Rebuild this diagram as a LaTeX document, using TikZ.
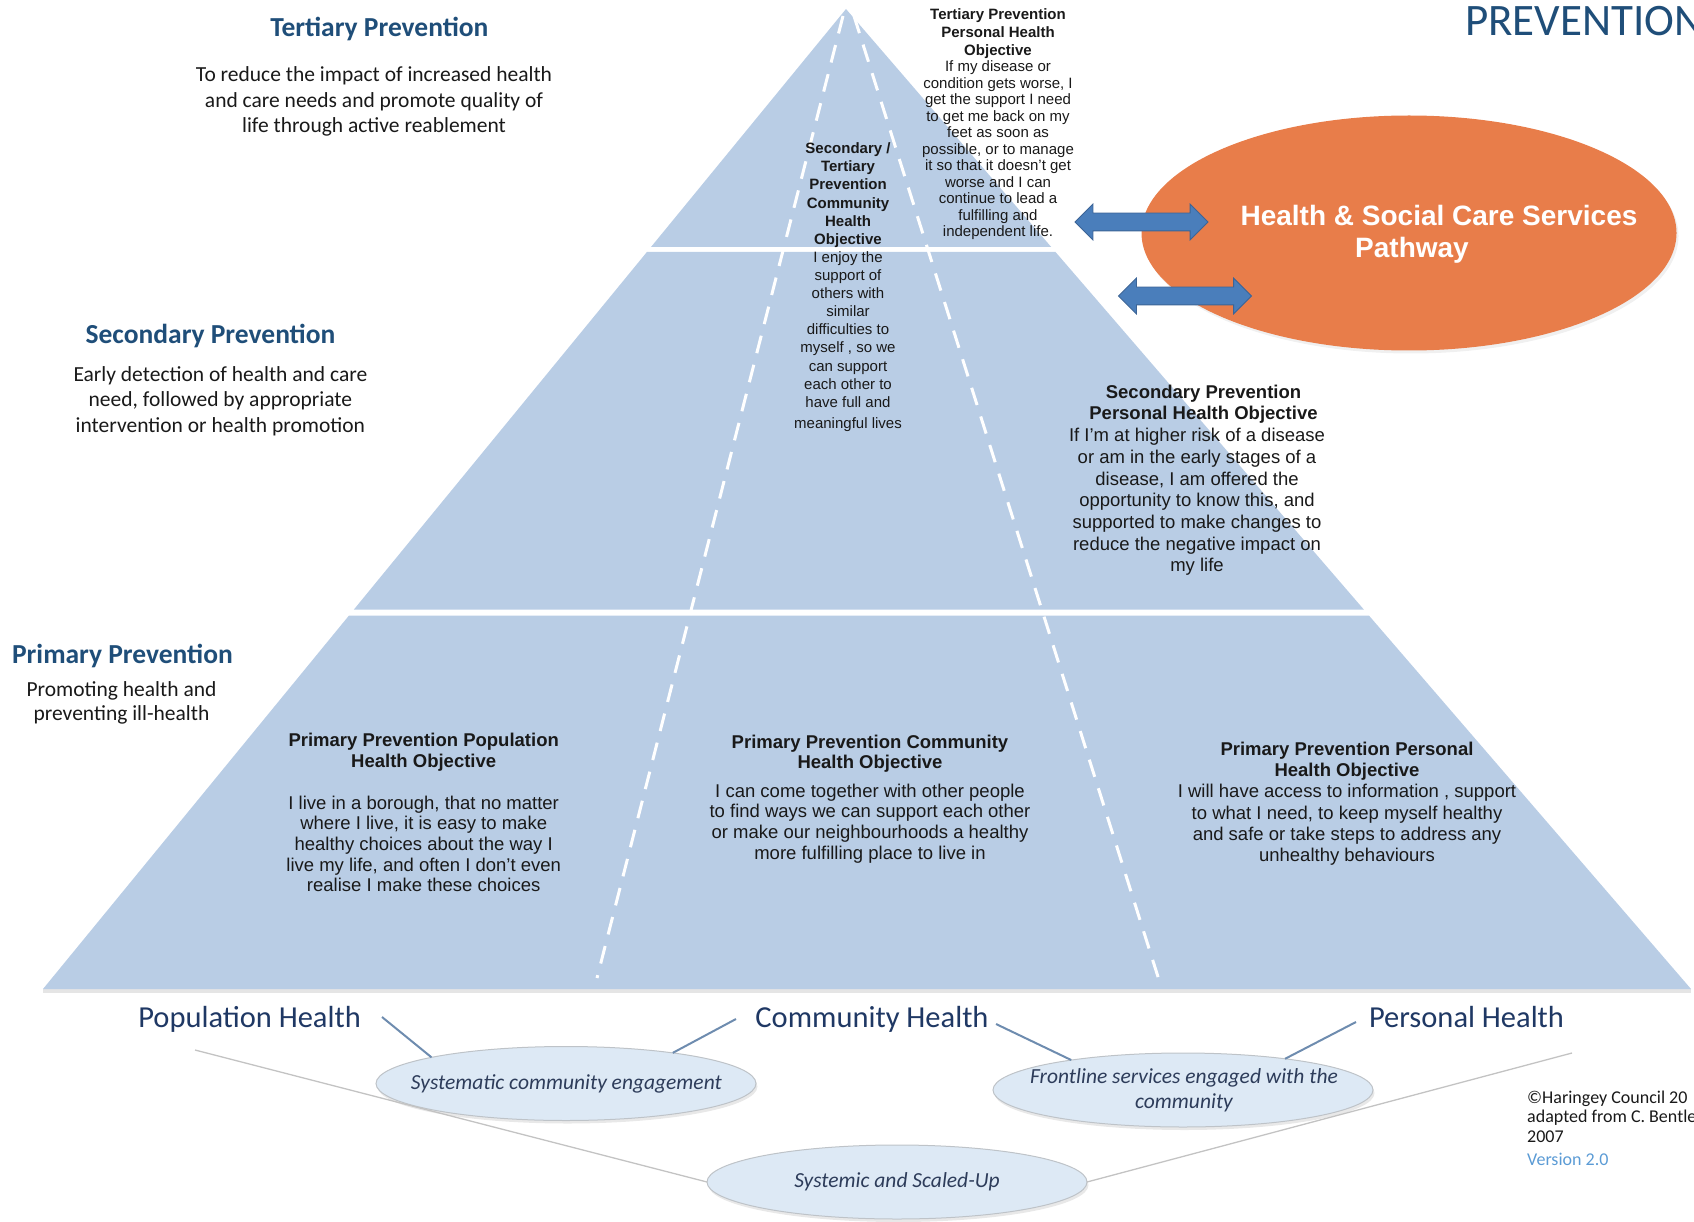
\documentclass[tikz,border=0pt]{standalone}
\usepackage{fontspec}
\setmainfont{Liberation Sans}
\newfontfamily\calibfont{Carlito}
\newfontfamily\arialfont{Liberation Sans}
\usetikzlibrary{shapes.geometric,shapes.arrows,shadows}
\definecolor{pyrblue}{RGB}{185,205,229}
\definecolor{titleblue}{RGB}{31,78,121}
\definecolor{navy}{RGB}{31,56,100}
\definecolor{orangec}{RGB}{232,125,74}
\definecolor{arrowblue}{RGB}{74,126,187}
\definecolor{arrowedge}{RGB}{60,100,150}
\definecolor{ellfill}{RGB}{221,233,245}
\definecolor{ellline}{RGB}{190,195,200}
\definecolor{elltext}{RGB}{45,60,90}
\definecolor{connblue}{RGB}{110,140,175}
\definecolor{longgray}{RGB}{195,195,195}
\definecolor{verblue}{RGB}{91,155,213}
\definecolor{bodyblack}{RGB}{25,25,25}
\begin{document}
\begin{tikzpicture}[x=1pt,y=-1pt,
  whitedash/.style={draw=white, line width=3pt, dash pattern=on 18pt off 12pt},
  ttl/.style={font=\calibfont\bfseries\fontsize{27.5}{33}\selectfont, text=titleblue, inner sep=0pt, anchor=base},
  calbody/.style={font=\calibfont\fontsize{21.5}{25.6}\selectfont, text=bodyblack, inner sep=0pt, anchor=base, align=center},
  lvl/.style={font=\calibfont\fontsize{30.5}{36}\selectfont, text=navy, inner sep=0pt, anchor=base},
  objsmall/.style={font=\arialfont\fontsize{15}{16.5}\selectfont, text=bodyblack, inner sep=0pt, anchor=base, align=center},
  objbig/.style={font=\arialfont\fontsize{18.5}{20.6}\selectfont, text=bodyblack, inner sep=0pt, anchor=base, align=center},
  bubble/.style={ellipse, fill=ellfill, draw=ellline, line width=1pt, minimum width=380pt, minimum height=74pt, inner sep=0pt, outer sep=0pt,
     drop shadow={opacity=0.18, shadow xshift=1.5pt, shadow yshift=-3pt}},
  bubtext/.style={font=\calibfont\itshape\fontsize{21.5}{25}\selectfont, text=elltext, align=center, inner sep=0pt, anchor=base},
  dblarrow/.style={double arrow, fill=arrowblue, draw=arrowedge, line width=0.8pt, minimum height=133pt,
     inner xsep=0pt, inner ysep=8.5pt, double arrow head extend=9pt, outer sep=0pt},
  conn/.style={draw=connblue, line width=2pt},
  longline/.style={draw=longgray, line width=1.3pt}
]
\useasboundingbox (0,0) rectangle (1694,1222);
\clip (0,0) rectangle (1694,1222);

% pyramid tiers
\fill[gray!20] (43,989) -- (1691,989) -- (1691,993) -- (43,993) -- cycle;
\fill[pyrblue] (846,9) -- (651,247) -- (1051.2,247) -- cycle;
\fill[pyrblue] (646.9,252) -- (1055.5,252) -- (1363.8,609.5) -- (353.9,609.5) -- cycle;
\fill[pyrblue] (349,615.5) -- (1368.9,615.5) -- (1691,989) -- (43,989) -- cycle;

% dashed dividers
\draw[whitedash] (843,16) -- (597,978);
\draw[whitedash] (854,16) -- (1159,980);

% left-hand descriptions (multi-line nodes: base = last line)
\node[ttl] (tert) at (379.4,36.7) {Tertiary Prevention};
\node[calbody] (tertd) at (374,132.9) {To reduce the impact of increased health\\and care needs and promote quality of\\life through active reablement};
\node[ttl] (sec) at (210.5,343.3) {Secondary Prevention};
\node[calbody] (secd) at (220.4,432.3) {Early detection of health and care\\need, followed by appropriate\\intervention or health promotion};
\node[ttl] (prim) at (122.5,663.3) {Primary Prevention};
\node[calbody, font=\calibfont\fontsize{21.5}{23.3}\selectfont] (primd) at (121.5,720) {Promoting health and\\preventing ill-health};

\node[font=\calibfont\fontsize{45}{54}\selectfont, text=titleblue, inner sep=0pt, anchor=base west] (prev) at (1465,36) {PREVENTION};

% objectives inside pyramid
\node[objsmall] (tpo) at (998,236.7) {\textbf{Tertiary Prevention}\\[1.2pt]\textbf{Personal Health}\\[1.2pt]\textbf{Objective}\\If my disease or\\condition  gets worse, I\\get the support I need\\to get me back on my\\feet as soon as\\possible, or to manage\\it so that it doesn’t get\\worse and I can\\continue to lead a\\fulfilling and\\independent life.};
\node[objsmall, font=\arialfont\fontsize{15}{18.1}\selectfont] (stco) at (848,428.3) {\textbf{Secondary /}\\\textbf{Tertiary}\\\textbf{Prevention}\\\textbf{Community}\\\textbf{Health}\\\textbf{Objective}\\I enjoy the\\support of\\others with\\similar\\difficulties to\\myself , so we\\can support\\each other to\\have full and\\[3pt]meaningful lives};
\node[objbig, font=\arialfont\fontsize{18.5}{21.7}\selectfont] (spo) at (1197,571.8) {\hspace*{13pt}\textbf{Secondary Prevention}\\\hspace*{13pt}\textbf{Personal Health Objective}\\If I’m at higher risk of a disease\\or am in the early stages of a\\disease,  I am offered the\\opportunity to know this, and\\supported to make changes to\\reduce the negative impact on\\my life};
\node[objbig] (ppop) at (423.7,891.7) {\textbf{Primary Prevention Population}\\\textbf{Health Objective}\\[21.4pt]I live in a borough, that no matter\\where I live, it is easy to make\\healthy choices about the way I\\live my life, and often I don’t even\\realise I make these choices};
\node[objbig] (pcom) at (870,859) {\textbf{Primary Prevention Community}\\\textbf{Health Objective}\\[8pt]I can come together with other people\\to find ways we can support each other\\or make our neighbourhoods  a healthy\\more fulfilling place to live in};
\node[objbig, font=\arialfont\fontsize{18.5}{21.3}\selectfont] (ppers) at (1347,861.6) {\textbf{Primary Prevention Personal}\\\textbf{Health Objective}\\I will have access to information , support\\to what I need, to keep myself healthy\\and  safe or take steps to address any\\unhealthy behaviours};

% services pathway
\node[ellipse, fill=orangec, minimum width=535pt, minimum height=235pt, inner sep=0pt, outer sep=0pt,
      drop shadow={opacity=0.12, shadow xshift=2pt, shadow yshift=-3pt}] (hsc) at (1409,233) {};
\node[font=\arialfont\bfseries\fontsize{28}{32.7}\selectfont, text=white, align=center, inner sep=0pt, anchor=base] (hsct) at (1439,258) {Health \& Social Care Services\\Pathway\hspace*{54pt}};
\node[dblarrow] (arr1) at (1141.5,222) {};
\node[dblarrow] (arr2) at (1185,296) {};

% bottom level labels
\node[lvl] (pop) at (249.6,1027.3) {Population Health};
\node[lvl] (com) at (872,1027.3) {Community Health};
\node[lvl] (per) at (1466.5,1027.3) {Personal Health};

\node[bubble] (e1) at (566,1083.5) {};
\node[bubble] (e2) at (1183,1090) {};
\node[bubble] (e3) at (897,1182) {};
\node[bubtext] (e1t) at (566.4,1089.3) {Systematic community engagement};
\node[bubtext] (e2t) at (1184,1108.3) {Frontline services engaged with the\\community};
\node[bubtext] (e3t) at (897,1187.5) {Systemic and Scaled-Up};

\coordinate (popR) at (382,1017);
\coordinate (comL) at (736,1019);
\coordinate (comR) at (996,1024);
\coordinate (perL) at (1356,1022);
\coordinate (longL) at (195,1050);
\coordinate (longR) at (1572,1053);

\draw[conn] (popR) -- (e1.169);
\draw[conn] (comL) -- (e1.16);
\draw[conn] (comR) -- (e2.165);
\draw[conn] (perL) -- (e2.17);
\draw[longline] (longL) -- (e3.west);
\draw[longline] (e3.east) -- (longR);

% credits
\node[font=\calibfont\fontsize{18}{19.5}\selectfont, text=bodyblack, align=left, inner sep=0pt, anchor=base west] (cred) at (1527,1142) {©Haringey Council 20\\adapted from C. Bentley\\2007};
\node[font=\calibfont\fontsize{18}{20}\selectfont, text=verblue, inner sep=0pt, anchor=base west] (ver) at (1527,1165) {Version 2.0};
\end{tikzpicture}
\end{document}
